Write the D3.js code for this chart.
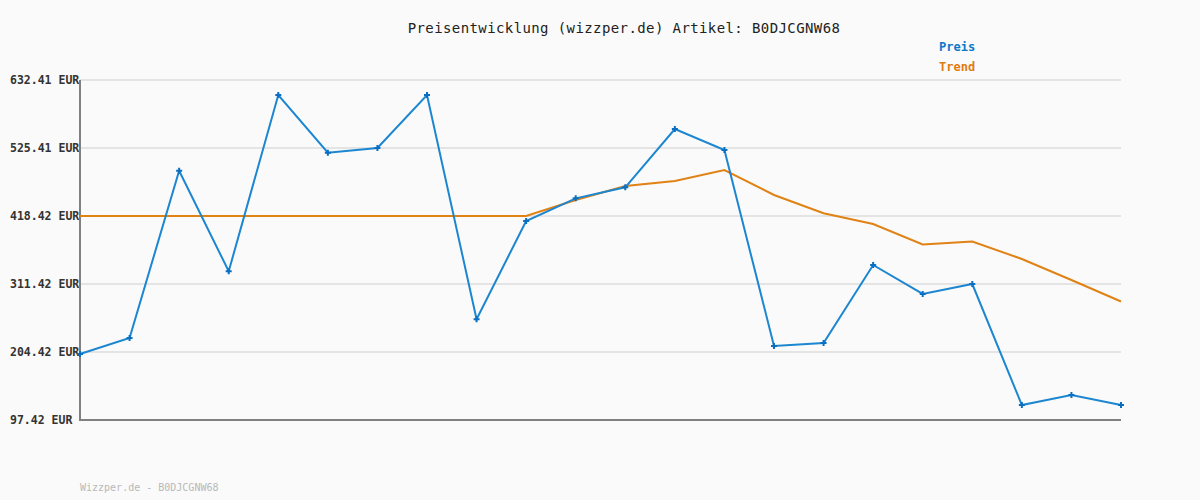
<!DOCTYPE html>
<html>
<head>
<meta charset="utf-8">
<script src="https://cdn.jsdelivr.net/npm/d3@7"></script>
<style>
  html, body { margin: 0; padding: 0; background: #fafafa; }
  svg { display: block; }
</style>
</head>
<body>
<svg id="chart" width="1200" height="500"></svg>
<script>
const categories = d3.range(22).map(i => "P" + (i + 1));
const preis = [201.3, 226.4, 489.7, 331.4, 608.8, 518.0, 525.4, 608.8, 255.9, 410.5, 446.2,
               463.6, 555.3, 522.2, 213.9, 218.6, 341.3, 295.7, 311.4, 121.0, 136.8, 121.0];
const trend = [418.42, 418.42, 418.42, 418.42, 418.42, 418.42, 418.42, 418.42, 418.42, 418.42, 443.6,
               465.6, 473.5, 490.8, 451.5, 422.7, 405.8, 373.6, 378.3, 350.8, 317.7, 283.9];
const tickValues = [97.42, 204.42, 311.42, 418.42, 525.41, 632.41];
const tickLabels = ["97.42 EUR", "204.42 EUR", "311.42 EUR", "418.42 EUR", "525.41 EUR", "632.41 EUR"];
const titleText = "Preisentwicklung (wizzper.de) Artikel: B0DJCGNW68";
const footerText = "Wizzper.de - B0DJCGNW68";
const legendNames = ["Preis", "Trend"];

(function () {
const svg = d3.select("#chart");
const W = 1200, H = 500;
const mLeft = 80, mRight = 1121, mTop = 80, mBottom = 420;
const mono = "'DejaVu Sans Mono', 'Liberation Mono', monospace";
const blue = "#1c86d1", orange = "#e08214";

svg.append("rect").attr("width", W).attr("height", H).attr("fill", "#fafafa");

const x = d3.scalePoint().domain(categories).range([mLeft, mRight]);
const y = d3.scaleLinear().domain([97.42, 632.41]).range([mBottom, mTop]);

// gridlines
svg.append("g").selectAll("line").data(tickValues.slice(1)).join("line")
  .attr("x1", mLeft).attr("x2", mRight)
  .attr("y1", d => y(d)).attr("y2", d => y(d))
  .attr("stroke", "#e4e4e4").attr("stroke-width", 2);

// y labels
svg.append("g").selectAll("text").data(tickValues).join("text")
  .attr("x", 10).attr("y", d => y(d)).attr("dy", "0.35em")
  .attr("font-family", mono).attr("font-size", 11.5).attr("font-weight", "bold")
  .attr("fill", "#333")
  .text((d, i) => tickLabels[i]);

// axes
svg.append("line").attr("x1", mLeft).attr("x2", mLeft).attr("y1", mTop).attr("y2", mBottom + 1)
  .attr("stroke", "#808080").attr("stroke-width", 2);
svg.append("line").attr("x1", mLeft).attr("x2", mRight).attr("y1", mBottom).attr("y2", mBottom)
  .attr("stroke", "#808080").attr("stroke-width", 2);

const line = d3.line().x((d, i) => x(categories[i])).y(d => y(d));

svg.append("path").datum(trend).attr("d", line)
  .attr("fill", "none").attr("stroke", orange).attr("stroke-width", 2);
svg.append("path").datum(preis).attr("d", line)
  .attr("fill", "none").attr("stroke", blue).attr("stroke-width", 2);

// markers
svg.append("g").selectAll("path").data(preis).join("path")
  .attr("d", (d, i) => {
    const cx = x(categories[i]), cy = y(d);
    return `M${cx - 3},${cy}H${cx + 3}M${cx},${cy - 3}V${cy + 3}`;
  })
  .attr("stroke", "#0a6fc0").attr("stroke-width", 2).attr("fill", "none");

// title
svg.append("text").attr("x", 624).attr("y", 33).attr("text-anchor", "middle")
  .attr("font-family", mono).attr("font-size", 14).attr("letter-spacing", "0.4px")
  .attr("fill", "#222").text(titleText);

// legend
svg.append("g").selectAll("text").data(legendNames).join("text")
  .attr("x", 939).attr("y", (d, i) => 47 + i * 20).attr("dy", "0.35em")
  .attr("font-family", mono).attr("font-size", 12).attr("font-weight", "bold")
  .attr("fill", (d, i) => i === 0 ? "#0a78c8" : "#e07b10")
  .text(d => d);

// footer
svg.append("text").attr("x", 80).attr("y", 491)
  .attr("font-family", mono).attr("font-size", 10)
  .attr("fill", "#b8b8b8").text(footerText);
})();
</script>
</body>
</html>
